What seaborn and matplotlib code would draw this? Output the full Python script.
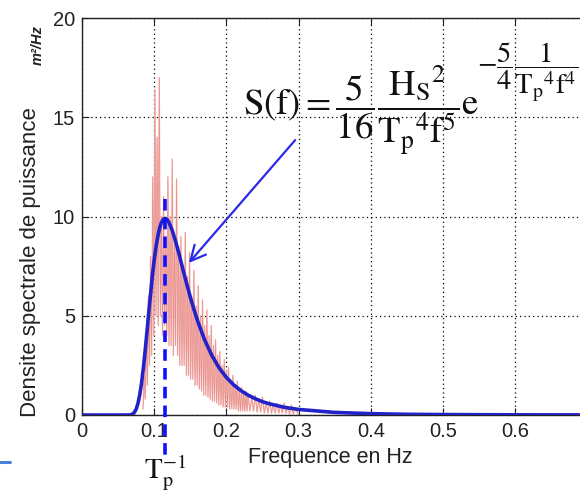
import numpy as np
import pandas as pd
import matplotlib
matplotlib.use("Agg")
import matplotlib.pyplot as plt
import seaborn as sns
from matplotlib.lines import Line2D

# ---------------- data ----------------
blue_freq = [0.0, 0.05, 0.06, 0.065, 0.0675, 0.07, 0.0725, 0.075, 0.0775, 0.08,
             0.0825, 0.085, 0.0875, 0.09, 0.0925, 0.095, 0.0975, 0.10, 0.1025,
             0.105, 0.1075, 0.11, 0.1125, 0.115, 0.1175, 0.12, 0.125, 0.13, 0.135,
             0.14, 0.145, 0.15, 0.155, 0.16, 0.17, 0.18, 0.19, 0.20, 0.21, 0.22,
             0.23, 0.24, 0.25, 0.26, 0.28, 0.30, 0.35, 0.40, 0.45, 0.50, 0.60, 0.70]
blue_vals = [0.0, 0.0, 0.0, 0.003, 0.013, 0.046, 0.13, 0.29, 0.58, 1.02,
             1.62, 2.36, 3.25, 4.2, 5.18, 6.1, 7.02, 7.8, 8.47,
             9.0, 9.42, 9.7, 9.85, 9.9, 9.86, 9.73, 9.30, 8.7, 8.03,
             7.3, 6.61, 5.94, 5.32, 4.75, 3.77, 2.99, 2.37, 1.89, 1.52, 1.23,
             1.00, 0.82, 0.67, 0.56, 0.39, 0.28, 0.13, 0.067, 0.035, 0.022, 0.009, 0.004]

red_freq = [0.0845, 0.086, 0.0875, 0.089, 0.0905, 0.092, 0.0935, 0.095, 0.0965, 0.098,
            0.0995, 0.101, 0.1025, 0.104, 0.1055, 0.107, 0.1085, 0.110, 0.1115, 0.113,
            0.1145, 0.116, 0.1175, 0.119, 0.1205, 0.122, 0.1235, 0.125, 0.1265, 0.128,
            0.1295, 0.131, 0.1325, 0.134, 0.1355, 0.137, 0.1385, 0.140, 0.1415, 0.143,
            0.1445, 0.146, 0.1475, 0.149, 0.1505, 0.152, 0.1535, 0.155, 0.1565, 0.158,
            0.1595, 0.161, 0.1625, 0.164, 0.1655, 0.167, 0.1685, 0.170, 0.1715, 0.173,
            0.1745, 0.176, 0.1775, 0.179, 0.1805, 0.182, 0.1835, 0.185, 0.1865, 0.188,
            0.1895, 0.191, 0.1925, 0.194, 0.1955, 0.197, 0.1985, 0.200, 0.2015, 0.203,
            0.2045, 0.206, 0.2075, 0.209, 0.2105, 0.212, 0.2135, 0.215, 0.2165, 0.218,
            0.2195, 0.221, 0.2225, 0.224, 0.2255, 0.227, 0.2285, 0.230, 0.2325, 0.235,
            0.2375, 0.240, 0.2425, 0.245, 0.2475, 0.250, 0.2525, 0.255, 0.2575, 0.260,
            0.2625, 0.265, 0.2675, 0.270, 0.2725, 0.275, 0.2775, 0.280, 0.2825, 0.285,
            0.2875, 0.290, 0.2925, 0.295, 0.300]
red_vals = [0.3, 2.0, 0.8, 4.0, 1.5, 6.0, 2.5, 8.0, 3.0, 12.0,
            4.0, 16.4, 5.0, 14.0, 4.5, 17.0, 5.0, 10.0, 4.0, 11.0,
            4.5, 9.0, 4.0, 12.0, 3.5, 10.0, 3.5, 12.9, 3.0, 9.0,
            3.5, 11.9, 3.0, 8.5, 2.5, 9.0, 2.5, 7.5, 2.5, 9.2,
            2.0, 7.0, 2.0, 8.2, 1.8, 6.0, 1.8, 7.3, 1.5, 5.5,
            1.5, 6.5, 1.3, 5.0, 1.2, 5.8, 1.0, 4.5, 1.0, 5.3,
            0.9, 4.0, 0.8, 4.5, 0.7, 3.5, 0.7, 3.8, 0.6, 3.0,
            0.5, 3.2, 0.5, 2.5, 0.4, 2.8, 0.4, 2.2, 0.4, 2.4,
            0.3, 1.8, 0.3, 2.0, 0.3, 1.5, 0.3, 1.7, 0.2, 1.3,
            0.2, 1.4, 0.2, 1.1, 0.2, 1.2, 0.2, 1.0, 0.2, 0.9,
            0.2, 1.0, 0.15, 0.8, 0.15, 0.9, 0.1, 0.6, 0.1, 0.7,
            0.1, 0.5, 0.1, 0.6, 0.1, 0.5, 0.1, 0.6, 0.1, 0.4,
            0.05, 0.5, 0.05, 0.3, 0.05]

x_ticks = [0, 0.1, 0.2, 0.3, 0.4, 0.5, 0.6]
x_tick_labels = ["0", "0.1", "0.2", "0.3", "0.4", "0.5", "0.6"]
y_ticks = [0, 5, 10, 15, 20]
y_tick_labels = ["0", "5", "10", "15", "20"]
tp_inv = 0.115          # peak frequency (dashed line)

# ---------------- figure ----------------
sns.set_theme(style="white")
plt.rcParams["font.family"] = ["Liberation Sans", "DejaVu Sans"]
plt.rcParams["mathtext.fontset"] = "stix"

W, H = 580, 491
fig = plt.figure(figsize=(W / 100, H / 100), dpi=100)
ax = fig.add_axes([82 / W, (H - 415) / H, (W - 82) / W, 397 / H])

red_df = pd.DataFrame({"f": red_freq, "S": red_vals})
blue_df = pd.DataFrame({"f": blue_freq, "S": blue_vals})

sns.lineplot(data=red_df, x="f", y="S", ax=ax, color="#f7b4b0", lw=1.0,
             sort=False, estimator=None, zorder=2)
sns.lineplot(data=red_df, x="f", y="S", ax=ax, color="#d06a66", lw=0.35,
             alpha=0.55, sort=False, estimator=None, zorder=2.1)
sns.lineplot(data=blue_df, x="f", y="S", ax=ax, color="#2222c8", lw=2.6,
             sort=False, estimator=None, zorder=4)

# dashed peak-frequency line, running below the axis
ax.plot([tp_inv, tp_inv], [10.9, -2.2], color="#1010ff", lw=2.6,
        dashes=(3.2, 2.0), clip_on=False, zorder=5)

ax.set_xlim(0, (W - 82) / 722)
ax.set_ylim(0, 20)
ax.set_xticks(x_ticks)
ax.set_xticklabels(x_tick_labels)
ax.set_yticks(y_ticks)
ax.set_yticklabels(y_tick_labels)
ax.tick_params(axis="both", direction="in", length=5, width=0.8, colors="#222222",
               labelsize=14.5, top=True, bottom=True, left=True, right=False)
ax.tick_params(axis="x", pad=5)
ax.tick_params(axis="y", pad=5)
ax.set_xlabel("")
ax.set_ylabel("")
for side in ["left", "bottom", "top"]:
    ax.spines[side].set_color("#222222")
    ax.spines[side].set_linewidth(1.0)
ax.spines["right"].set_visible(False)

ax.grid(True, color="black", linestyle=(0, (1, 2.5)), linewidth=0.9)
ax.set_axisbelow(True)

# labels
fig.text(330 / W, 1 - 458 / H, "Frequence en Hz", ha="center", va="center",
         fontsize=15.5, color="#222222")
fig.text(31 / W, 1 - 262 / H, "Densite spectrale de puissance", rotation=90,
         ha="center", va="center", fontsize=16, color="#222222")
fig.text(38 / W, 1 - 45 / H, "m²/Hz", rotation=90, ha="center", va="center",
         fontsize=10.5, style="italic", fontweight="bold", color="#222222")

# formula
fig.text(243 / W, 1 - 110 / H,
         r"$\mathrm{S(f)}=\dfrac{5}{16}\dfrac{\mathrm{H_S}^{2}}{\mathrm{T_p}^{4}\mathrm{f}^{5}}\mathrm{e}$",
         ha="left", va="center", fontsize=26.5, color="#111111")
fig.text(477 / W, 1 - 72 / H,
         r"$-\dfrac{5}{4}\dfrac{1}{\mathrm{T_p}^{4}\mathrm{f}^{4}}$",
         ha="left", va="center", fontsize=20.5, color="#111111")

# arrow
ax.annotate("", xy=((187 - 82) / 722, (415 - 265) / 19.85),
            xytext=((297 - 82) / 722, (415 - 138) / 19.85),
            arrowprops=dict(arrowstyle="->,head_length=0.9,head_width=0.45",
                            color="#2a2ae6", lw=1.6), zorder=6)

# T_p^{-1} label
fig.text(144 / W, 1 - 478 / H, r"$\mathrm{T}_{\mathrm{p}}^{-1}$", ha="left",
         va="baseline", fontsize=21, color="#111111")

# small blue mark at bottom-left
fig.add_artist(Line2D([0, 10 / W], [1 - 462 / H, 1 - 462 / H],
                      color="#4a80d8", lw=2.2))

fig.savefig("out.png", dpi=100)
